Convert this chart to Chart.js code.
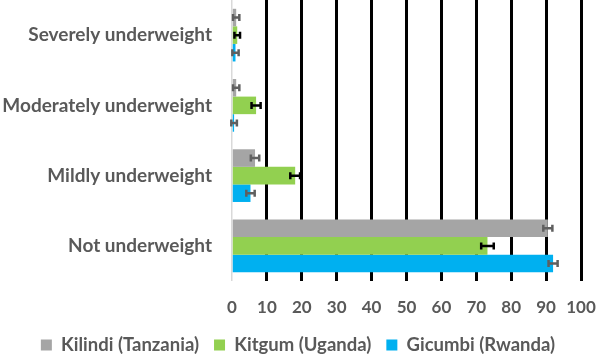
<!DOCTYPE html>
<html>
<head>
<meta charset="utf-8">
<script src="https://cdn.jsdelivr.net/npm/chart.js@4"></script>
<style>
  html, body { margin: 0; padding: 0; background: #fff; }
  #wrap { width: 596px; height: 355px; }
</style>
</head>
<body>
<div id="wrap"><canvas id="chart"></canvas></div>
<script>
// categories, top to bottom
const categories = ['Severely underweight', 'Moderately underweight', 'Mildly underweight', 'Not underweight'];

// series values (%)
const kilindi = [1.2, 1.2, 6.6, 90.5];
const kitgum = [1.5, 6.9, 18.1, 73.2];
const gicumbi = [1.0, 0.6, 5.3, 92.0];

// error bar half-widths
const kilindiErr = [0.9, 0.9, 1.2, 1.3];
const kitgumErr = [0.8, 1.3, 1.4, 1.8];
const gicumbiErr = [0.9, 0.8, 1.2, 1.3];

const xTicks = [0, 10, 20, 30, 40, 50, 60, 70, 80, 90, 100];

const textColor = '#595959';

// draws the error bars using the library's scales
const errorBars = {
    id: 'errorBars',
    afterDatasetsDraw(chart) {
        const ctx = chart.ctx;
        const xs = chart.scales.x;
        chart.data.datasets.forEach((ds, i) => {
            const meta = chart.getDatasetMeta(i);
            meta.data.forEach((bar, j) => {
                const v = ds.data[j];
                const e = ds.errors[j];
                const x1 = xs.getPixelForValue(v - e);
                const x2 = xs.getPixelForValue(v + e);
                const y = bar.y;
                ctx.save();
                ctx.strokeStyle = ds.errorColor;
                ctx.lineWidth = 2.5;
                ctx.beginPath();
                ctx.moveTo(x1, y); ctx.lineTo(x2, y);
                ctx.moveTo(x1, y - 3.5); ctx.lineTo(x1, y + 3.5);
                ctx.moveTo(x2, y - 3.5); ctx.lineTo(x2, y + 3.5);
                ctx.stroke();
                ctx.restore();
            });
        });
    }
};

new Chart(document.getElementById('chart'), {
    type: 'bar',
    data: {
        labels: categories,
        datasets: [
            { label: 'Kilindi (Tanzania)', data: kilindi, errors: kilindiErr, errorColor: '#5f5f5f', backgroundColor: '#a5a5a5' },
            { label: 'Kitgum (Uganda)', data: kitgum, errors: kitgumErr, errorColor: '#000000', backgroundColor: '#92d050' },
            { label: 'Gicumbi (Rwanda)', data: gicumbi, errors: gicumbiErr, errorColor: '#5f5f5f', backgroundColor: '#00b0f0' }
        ]
    },
    options: {
        indexAxis: 'y',
        responsive: true,
        maintainAspectRatio: false,
        animation: false,
        datasets: { bar: { categoryPercentage: 0.75, barPercentage: 1.0 } },
        // negative bottom so the legend row sits low like the original
        layout: { padding: { top: 0, right: 0, left: 0, bottom: -9.25 } },
        scales: {
            x: {
                min: 0,
                max: 100,
                afterBuildTicks: axis => { axis.ticks = xTicks.map(v => ({ value: v })); },
                afterFit: axis => { axis.height = 39.75; axis.paddingRight = 15; axis.paddingLeft = 0; },
                border: { display: false },
                grid: {
                    color: c => c.tick.value === 0 ? '#d9d9d9' : '#000000',
                    lineWidth: c => c.tick.value === 0 ? 1.5 : 3,
                    drawTicks: false
                },
                ticks: {
                    color: textColor,
                    padding: 16,
                    font: { family: 'Lato', weight: 'bold', size: 17 }
                }
            },
            y: {
                afterFit: axis => { axis.width = 232; axis.paddingTop = 0; axis.paddingBottom = 0; },
                border: { display: false },
                grid: { display: false, drawTicks: false },
                ticks: {
                    color: textColor,
                    padding: 20,
                    font: { family: 'Lato', weight: 'bold', size: 19 }
                }
            }
        },
        plugins: {
            legend: {
                position: 'bottom',
                labels: {
                    color: textColor,
                    boxWidth: 11,
                    boxHeight: 11,
                    padding: 15,
                    font: { family: 'Lato', weight: 'bold', size: 18.5 }
                }
            },
            tooltip: { enabled: false }
        }
    },
    plugins: [errorBars]
});
</script>
</body>
</html>
